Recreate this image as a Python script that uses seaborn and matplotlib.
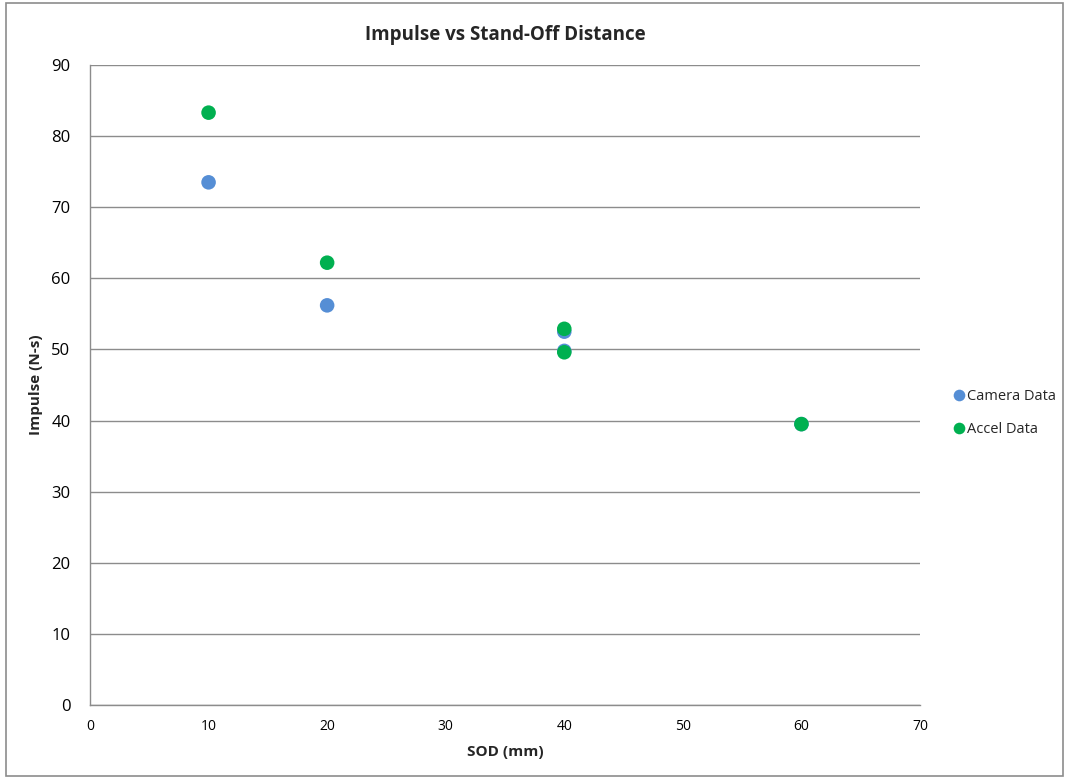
import matplotlib
matplotlib.use("Agg")
import matplotlib.pyplot as plt
import seaborn as sns
import pandas as pd
from matplotlib.patches import Rectangle

camera_sod = [10, 20, 40, 40, 60]
camera_impulse = [73.5, 56.2, 52.5, 49.8, 39.5]
accel_sod = [10, 20, 40, 40, 60]
accel_impulse = [83.3, 62.2, 52.9, 49.6, 39.5]

df = pd.DataFrame({
    "SOD": camera_sod + accel_sod,
    "Impulse": camera_impulse + accel_impulse,
    "Series": ["Camera Data"] * len(camera_sod) + ["Accel Data"] * len(accel_sod),
})

sns.set_style("white")
plt.rcParams['font.family'] = ['Open Sans', 'DejaVu Sans']

fig = plt.figure(figsize=(10.65, 7.78), dpi=100)
ax = fig.add_axes([90/1065, 1-705/778, (920-90)/1065, (705-65)/778])

palette = {"Camera Data": "#558ED5", "Accel Data": "#00B050"}
sns.scatterplot(data=df, x="SOD", y="Impulse", hue="Series", palette=palette,
                s=110, edgecolor="none", ax=ax, zorder=3, legend=True)

ax.set_xlim(0, 70)
ax.set_ylim(0, 90)
ax.set_xticks(range(0, 71, 10))
ax.set_yticks(range(0, 91, 10))
ax.yaxis.grid(True, color="#8c8c8c", linewidth=1)
ax.xaxis.grid(False)
ax.set_axisbelow(True)
for side in ["top", "right"]:
    ax.spines[side].set_visible(False)
for side in ["left", "bottom"]:
    ax.spines[side].set_color("#8c8c8c")
    ax.spines[side].set_linewidth(1)
ax.tick_params(axis="both", length=0, colors="#000000")
ax.tick_params(axis="x", pad=10, labelsize=10)
ax.tick_params(axis="y", pad=14, labelsize=12)

ax.set_xlabel("SOD (mm)", fontsize=11, fontweight="bold", labelpad=8)
ax.set_ylabel("Impulse (N-s)", fontsize=11, fontweight="bold", labelpad=6)
ax.set_title("Impulse vs Stand-Off Distance", fontsize=13.5, fontweight="bold", pad=18)

leg = ax.legend(loc="center left", bbox_to_anchor=(1.036, 0.456), frameon=False,
                fontsize=10.5, handletextpad=0.0, labelspacing=1.2, markerscale=0.8,
                borderpad=0, borderaxespad=0, handlelength=1.2)

fig.patches.append(Rectangle((6/1065, 0.002), 1 - 8/1065, 1 - 3/778 - 0.002,
                             transform=fig.transFigure, fill=False,
                             edgecolor="#8c8c8c", linewidth=1.2))

fig.savefig("out.png", dpi=100)
